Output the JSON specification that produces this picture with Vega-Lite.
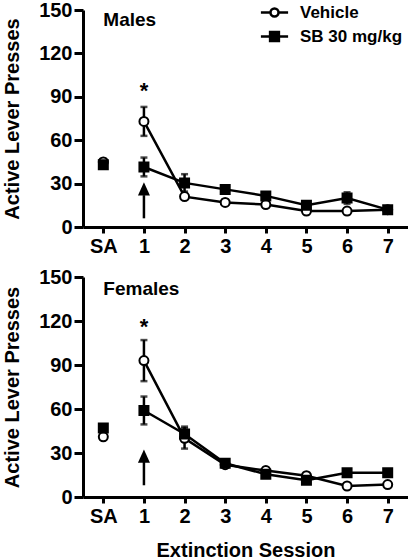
{
  "$schema": "https://vega.github.io/schema/vega-lite/v6.json",
  "padding": {"left": 2, "top": 0, "right": 0, "bottom": 0},
  "spacing": 11,
  "config": {
    "view": {"stroke": null},
    "font": "Liberation Sans",
    "axis": {
      "labelFont": "Liberation Sans", "labelFontWeight": "bold", "labelFontSize": 20, "labelColor": "black",
      "titleFont": "Liberation Sans", "titleFontWeight": "bold", "titleFontSize": 20, "titleColor": "black",
      "domainColor": "black", "domainWidth": 3, "tickColor": "black", "tickWidth": 3, "grid": false
    },
    "legend": {
      "orient": "none", "title": null, "padding": 0,
      "labelFont": "Liberation Sans", "labelFontSize": 17, "labelFontWeight": "bold", "labelColor": "black",
      "symbolSize": 64, "symbolStrokeWidth": 2.5, "symbolStrokeColor": "black", "symbolOpacity": 1, "labelOffset": 17
    }
  },
  "datasets": {
    "pts": [
      {"sex": "Males", "group": "Vehicle", "session": 0, "mean": 45, "lo": 43, "hi": 47},
      {"sex": "Males", "group": "Vehicle", "session": 1, "mean": 73, "lo": 63, "hi": 83},
      {"sex": "Males", "group": "Vehicle", "session": 2, "mean": 21, "lo": 19, "hi": 23},
      {"sex": "Males", "group": "Vehicle", "session": 3, "mean": 17, "lo": 15, "hi": 19},
      {"sex": "Males", "group": "Vehicle", "session": 4, "mean": 15.5, "lo": 13.5, "hi": 17.5},
      {"sex": "Males", "group": "Vehicle", "session": 5, "mean": 11, "lo": 9, "hi": 13},
      {"sex": "Males", "group": "Vehicle", "session": 6, "mean": 11, "lo": 9, "hi": 13},
      {"sex": "Males", "group": "Vehicle", "session": 7, "mean": 12, "lo": 11, "hi": 13},
      {"sex": "Males", "group": "SB 30 mg/kg", "session": 0, "mean": 43, "lo": 41, "hi": 45},
      {"sex": "Males", "group": "SB 30 mg/kg", "session": 1, "mean": 41.5, "lo": 35, "hi": 48},
      {"sex": "Males", "group": "SB 30 mg/kg", "session": 2, "mean": 30.5, "lo": 24.5, "hi": 36.5},
      {"sex": "Males", "group": "SB 30 mg/kg", "session": 3, "mean": 26, "lo": 24, "hi": 28},
      {"sex": "Males", "group": "SB 30 mg/kg", "session": 4, "mean": 21.5, "lo": 19.5, "hi": 23.5},
      {"sex": "Males", "group": "SB 30 mg/kg", "session": 5, "mean": 15, "lo": 13, "hi": 17},
      {"sex": "Males", "group": "SB 30 mg/kg", "session": 6, "mean": 20, "lo": 16, "hi": 24},
      {"sex": "Males", "group": "SB 30 mg/kg", "session": 7, "mean": 12, "lo": 11, "hi": 13},
      {"sex": "Females", "group": "Vehicle", "session": 0, "mean": 41, "lo": 39, "hi": 43},
      {"sex": "Females", "group": "Vehicle", "session": 1, "mean": 93, "lo": 79, "hi": 107},
      {"sex": "Females", "group": "Vehicle", "session": 2, "mean": 40, "lo": 33, "hi": 47},
      {"sex": "Females", "group": "Vehicle", "session": 3, "mean": 22, "lo": 20, "hi": 24},
      {"sex": "Females", "group": "Vehicle", "session": 4, "mean": 18, "lo": 16, "hi": 20},
      {"sex": "Females", "group": "Vehicle", "session": 5, "mean": 14.5, "lo": 12.5, "hi": 16.5},
      {"sex": "Females", "group": "Vehicle", "session": 6, "mean": 7.5, "lo": 6.5, "hi": 8.5},
      {"sex": "Females", "group": "Vehicle", "session": 7, "mean": 8.5, "lo": 7.5, "hi": 9.5},
      {"sex": "Females", "group": "SB 30 mg/kg", "session": 0, "mean": 47, "lo": 45, "hi": 49},
      {"sex": "Females", "group": "SB 30 mg/kg", "session": 1, "mean": 59, "lo": 49.5, "hi": 68.5},
      {"sex": "Females", "group": "SB 30 mg/kg", "session": 2, "mean": 43, "lo": 38, "hi": 48},
      {"sex": "Females", "group": "SB 30 mg/kg", "session": 3, "mean": 23, "lo": 21, "hi": 25},
      {"sex": "Females", "group": "SB 30 mg/kg", "session": 4, "mean": 15.5, "lo": 13.5, "hi": 17.5},
      {"sex": "Females", "group": "SB 30 mg/kg", "session": 5, "mean": 11.5, "lo": 9.5, "hi": 13.5},
      {"sex": "Females", "group": "SB 30 mg/kg", "session": 6, "mean": 16.5, "lo": 14.5, "hi": 18.5},
      {"sex": "Females", "group": "SB 30 mg/kg", "session": 7, "mean": 16.5, "lo": 14.5, "hi": 18.5}
    ],
    "ann": [
      {"sex": "Males", "label": "Males", "lx": 0.0, "ly": 143, "star": 94, "session": 1, "a0": 6, "a1": 22, "head": 26},
      {"sex": "Females", "label": "Females", "lx": 0.0, "ly": 142, "star": 116, "session": 1, "a0": 8, "a1": 24, "head": 27.5}
    ]
  },
  "vconcat": [
    {
      "width": 325, "height": 217,
      "layer": [
        {
          "data": {"name": "pts"},
          "transform": [{"filter": "datum.sex == 'Males'"}],
          "mark": {"type": "rule", "color": "black", "strokeWidth": 2.5},
          "encoding": {
            "x": {"field": "session", "type": "quantitative", "scale": {"domain": [-0.5, 7.5], "nice": false, "zero": false}, "axis": {"values": [0,1,2,3,4,5,6,7], "labelExpr": "datum.value == 0 ? 'SA' : datum.label", "tickSize": 6, "labelPadding": 3, "title": null}},
            "y": {"field": "lo", "type": "quantitative", "scale": {"domain": [0, 150], "nice": false}, "axis": {"values": [0,30,60,90,120,150], "tickSize": 9, "labelPadding": 2, "titlePadding": 16}, "title": "Active Lever Presses"},
            "y2": {"field": "hi"}
          }
        },
        {
          "data": {"name": "pts"},
          "transform": [{"filter": "datum.sex == 'Males'"}],
          "mark": {"type": "tick", "orient": "horizontal", "color": "black", "thickness": 2.5, "size": 7},
          "encoding": {
            "x": {"field": "session", "type": "quantitative", "title": null},
            "y": {"field": "hi", "type": "quantitative", "title": "Active Lever Presses"}
          }
        },
        {
          "data": {"name": "pts"},
          "transform": [{"filter": "datum.sex == 'Males'"}],
          "mark": {"type": "tick", "orient": "horizontal", "color": "black", "thickness": 2.5, "size": 7},
          "encoding": {
            "x": {"field": "session", "type": "quantitative", "title": null},
            "y": {"field": "lo", "type": "quantitative", "title": "Active Lever Presses"}
          }
        },
        {
          "data": {"name": "pts"},
          "transform": [{"filter": "datum.sex == 'Males' && datum.session >= 1"}],
          "mark": {"type": "line", "color": "black", "strokeWidth": 2.5},
          "encoding": {
            "x": {"field": "session", "type": "quantitative", "title": null},
            "y": {"field": "mean", "type": "quantitative", "title": "Active Lever Presses"},
            "detail": {"field": "group"}
          }
        },
        {
          "data": {"name": "pts"},
          "transform": [{"filter": "datum.sex == 'Males'"}],
          "mark": {"type": "point", "filled": true, "stroke": "black", "strokeWidth": 2},
          "encoding": {
            "x": {"field": "session", "type": "quantitative", "title": null},
            "y": {"field": "mean", "type": "quantitative", "title": "Active Lever Presses"},
            "size": {"value": 81},
            "shape": {"field": "group", "type": "nominal", "scale": {"domain": ["SB 30 mg/kg", "Vehicle"], "range": ["square", "circle"]}, "legend": null},
            "fill": {"field": "group", "type": "nominal", "scale": {"domain": ["Vehicle", "SB 30 mg/kg"], "range": ["white", "black"]}, "legend": {
              "values": ["Vehicle"], "legendX": 183, "legendY": -6,
              "symbolStrokeColor": "black", "symbolStrokeWidth": 2.5, "symbolOpacity": 1,
              "symbolType": "M-3.4,0L-1,0M1,0L3.4,0M1,0A1,1 0 1,1 -1,0A1,1 0 1,1 1,0Z"
            }},
            "opacity": {"field": "group", "type": "nominal", "scale": {"domain": ["SB 30 mg/kg", "Vehicle", "x"], "range": [1, 1, 1]}, "legend": {
              "values": ["SB 30 mg/kg"], "legendX": 183, "legendY": 18,
              "symbolFillColor": "black", "symbolStrokeColor": "black", "symbolStrokeWidth": 2.5, "symbolOpacity": 1,
              "symbolType": "M-3.4,0L3.4,0M-1.1,-1.1L1.1,-1.1L1.1,1.1L-1.1,1.1Z"
            }}
          }
        },
        {
          "data": {"name": "ann"},
          "transform": [{"filter": "datum.sex == 'Males'"}],
          "mark": {"type": "rule", "color": "black", "strokeWidth": 2.5},
          "encoding": {
            "x": {"field": "session", "type": "quantitative", "title": null},
            "y": {"field": "a0", "type": "quantitative", "title": "Active Lever Presses"},
            "y2": {"field": "a1"}
          }
        },
        {
          "data": {"name": "ann"},
          "transform": [{"filter": "datum.sex == 'Males'"}],
          "mark": {"type": "point", "filled": true, "color": "black", "opacity": 1, "size": 144, "shape": "M0,-1.2L-1,1L1,1Z"},
          "encoding": {
            "x": {"field": "session", "type": "quantitative", "title": null},
            "y": {"field": "head", "type": "quantitative", "title": "Active Lever Presses"}
          }
        },
        {
          "data": {"name": "ann"},
          "transform": [{"filter": "datum.sex == 'Males'"}],
          "mark": {"type": "text", "text": "*", "fontSize": 22, "fontWeight": "bold", "font": "Liberation Sans", "color": "black", "baseline": "middle"},
          "encoding": {
            "x": {"field": "session", "type": "quantitative", "title": null},
            "y": {"field": "star", "type": "quantitative", "title": "Active Lever Presses"}
          }
        },
        {
          "data": {"name": "ann"},
          "transform": [{"filter": "datum.sex == 'Males'"}],
          "mark": {"type": "text", "fontSize": 19, "fontWeight": "bold", "font": "Liberation Sans", "color": "black", "align": "left", "baseline": "middle"},
          "encoding": {
            "x": {"field": "lx", "type": "quantitative", "title": null},
            "y": {"field": "ly", "type": "quantitative", "title": "Active Lever Presses"},
            "text": {"field": "label"}
          }
        }
      ]
    },
    {
      "width": 325, "height": 220,
      "layer": [
        {
          "data": {"name": "pts"},
          "transform": [{"filter": "datum.sex == 'Females'"}],
          "mark": {"type": "rule", "color": "black", "strokeWidth": 2.5},
          "encoding": {
            "x": {"field": "session", "type": "quantitative", "scale": {"domain": [-0.5, 7.5], "nice": false, "zero": false}, "axis": {"values": [0,1,2,3,4,5,6,7], "labelExpr": "datum.value == 0 ? 'SA' : datum.label", "tickSize": 6, "labelPadding": 3, "titlePadding": 14}, "title": "Extinction Session"},
            "y": {"field": "lo", "type": "quantitative", "scale": {"domain": [0, 150], "nice": false}, "axis": {"values": [0,30,60,90,120,150], "tickSize": 9, "labelPadding": 2, "titlePadding": 16}, "title": "Active Lever Presses"},
            "y2": {"field": "hi"}
          }
        },
        {
          "data": {"name": "pts"},
          "transform": [{"filter": "datum.sex == 'Females'"}],
          "mark": {"type": "tick", "orient": "horizontal", "color": "black", "thickness": 2.5, "size": 7},
          "encoding": {
            "x": {"field": "session", "type": "quantitative", "title": "Extinction Session"},
            "y": {"field": "hi", "type": "quantitative", "title": "Active Lever Presses"}
          }
        },
        {
          "data": {"name": "pts"},
          "transform": [{"filter": "datum.sex == 'Females'"}],
          "mark": {"type": "tick", "orient": "horizontal", "color": "black", "thickness": 2.5, "size": 7},
          "encoding": {
            "x": {"field": "session", "type": "quantitative", "title": "Extinction Session"},
            "y": {"field": "lo", "type": "quantitative", "title": "Active Lever Presses"}
          }
        },
        {
          "data": {"name": "pts"},
          "transform": [{"filter": "datum.sex == 'Females' && datum.session >= 1"}],
          "mark": {"type": "line", "color": "black", "strokeWidth": 2.5},
          "encoding": {
            "x": {"field": "session", "type": "quantitative", "title": "Extinction Session"},
            "y": {"field": "mean", "type": "quantitative", "title": "Active Lever Presses"},
            "detail": {"field": "group"}
          }
        },
        {
          "data": {"name": "pts"},
          "transform": [{"filter": "datum.sex == 'Females'"}],
          "mark": {"type": "point", "filled": true, "stroke": "black", "strokeWidth": 2},
          "encoding": {
            "x": {"field": "session", "type": "quantitative", "title": "Extinction Session"},
            "y": {"field": "mean", "type": "quantitative", "title": "Active Lever Presses"},
            "size": {"value": 81},
            "shape": {"field": "group", "type": "nominal", "scale": {"domain": ["SB 30 mg/kg", "Vehicle"], "range": ["square", "circle"]}, "legend": null},
            "fill": {"field": "group", "type": "nominal", "scale": {"domain": ["Vehicle", "SB 30 mg/kg"], "range": ["white", "black"]}, "legend": null},
            "opacity": {"field": "group", "type": "nominal", "scale": {"domain": ["SB 30 mg/kg", "Vehicle", "x"], "range": [1, 1, 1]}, "legend": null}
          }
        },
        {
          "data": {"name": "ann"},
          "transform": [{"filter": "datum.sex == 'Females'"}],
          "mark": {"type": "rule", "color": "black", "strokeWidth": 2.5},
          "encoding": {
            "x": {"field": "session", "type": "quantitative", "title": "Extinction Session"},
            "y": {"field": "a0", "type": "quantitative", "title": "Active Lever Presses"},
            "y2": {"field": "a1"}
          }
        },
        {
          "data": {"name": "ann"},
          "transform": [{"filter": "datum.sex == 'Females'"}],
          "mark": {"type": "point", "filled": true, "color": "black", "opacity": 1, "size": 144, "shape": "M0,-1.2L-1,1L1,1Z"},
          "encoding": {
            "x": {"field": "session", "type": "quantitative", "title": "Extinction Session"},
            "y": {"field": "head", "type": "quantitative", "title": "Active Lever Presses"}
          }
        },
        {
          "data": {"name": "ann"},
          "transform": [{"filter": "datum.sex == 'Females'"}],
          "mark": {"type": "text", "text": "*", "fontSize": 22, "fontWeight": "bold", "font": "Liberation Sans", "color": "black", "baseline": "middle"},
          "encoding": {
            "x": {"field": "session", "type": "quantitative", "title": "Extinction Session"},
            "y": {"field": "star", "type": "quantitative", "title": "Active Lever Presses"}
          }
        },
        {
          "data": {"name": "ann"},
          "transform": [{"filter": "datum.sex == 'Females'"}],
          "mark": {"type": "text", "fontSize": 19, "fontWeight": "bold", "font": "Liberation Sans", "color": "black", "align": "left", "baseline": "middle"},
          "encoding": {
            "x": {"field": "lx", "type": "quantitative", "title": "Extinction Session"},
            "y": {"field": "ly", "type": "quantitative", "title": "Active Lever Presses"},
            "text": {"field": "label"}
          }
        }
      ]
    }
  ]
}
